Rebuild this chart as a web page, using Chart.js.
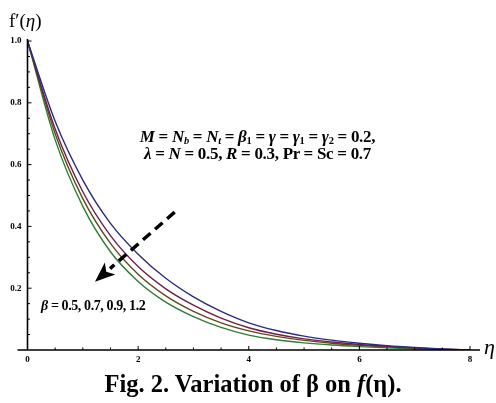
<!DOCTYPE html>
<html>
<head>
<meta charset="utf-8">
<script src="https://cdn.jsdelivr.net/npm/chart.js@4.4.1/dist/chart.umd.min.js"></script>
<style>
  html, body { margin: 0; padding: 0; background: #fff; }
  #wrap { position: relative; width: 496px; height: 403px; overflow: hidden; }
  #plot { position: absolute; left: 0; top: 0; }
  .txt { position: absolute; font-family: "Liberation Serif", "DejaVu Serif", serif; color: #000; white-space: nowrap; }
  .params { font-weight: bold; font-size: 17px; line-height: 17px; text-align: center; left: 100px; width: 315px; top: 128px; letter-spacing: -0.3px; }
  .params i { font-style: italic; }
  .params sub { font-size: 10.5px; vertical-align: -2px; line-height: 0; }
  .beta { font-weight: bold; font-size: 14px; left: 41px; top: 298px; letter-spacing: -0.4px; }
  .ylab { font-size: 19px; left: 9px; top: 10px; }
  .xlab { font-size: 22px; font-style: italic; left: 484px; top: 334px; }
  .caption { font-weight: bold; font-size: 24.5px; left: 0; width: 506px; text-align: center; top: 370px; }
</style>
</head>
<body>
<div id="wrap">
  <canvas id="plot" width="496" height="403"></canvas>
  <div class="txt ylab">f′(<i>η</i>)</div>
  <div class="txt xlab">η</div>
  <div class="txt params">
    <i>M</i> = <i>N<sub>b</sub></i> = <i>N<sub>t</sub></i> = <i>β</i><sub>1</sub> = <i>γ</i> = <i>γ</i><sub>1</sub> = <i>γ</i><sub>2</sub> = 0.2,<br>
    <i>λ</i> = <i>N</i> = 0.5, <i>R</i> = 0.3, Pr = Sc = 0.7
  </div>
  <div class="txt beta"><i>β</i> = 0.5, 0.7, 0.9, 1.2</div>
  <div class="txt caption">Fig. 2. Variation of β on <i>f</i>(η).</div>
</div>
<script>
// eta grid and velocity profiles f'(eta) for each beta
const eta = [0, 0.5, 1, 1.5, 2, 2.5, 3, 3.5, 4, 4.5, 5, 5.5, 6, 6.5, 7, 7.5, 8];
const betaLabels = ['β = 0.5', 'β = 0.7', 'β = 0.9', 'β = 1.2'];
const fBeta05 = [1.0, 0.74, 0.55, 0.41, 0.31, 0.232, 0.172, 0.125, 0.088, 0.063, 0.045, 0.032, 0.022, 0.014, 0.008, 0.003, 0.0];
const fBeta07 = [1.0, 0.715, 0.512, 0.37, 0.27, 0.198, 0.145, 0.103, 0.072, 0.051, 0.036, 0.026, 0.018, 0.012, 0.007, 0.003, 0.0];
const fBeta09 = [1.0, 0.70, 0.49, 0.345, 0.245, 0.175, 0.125, 0.088, 0.062, 0.044, 0.031, 0.022, 0.015, 0.010, 0.006, 0.002, 0.0];
const fBeta12 = [1.0, 0.68, 0.465, 0.318, 0.222, 0.155, 0.108, 0.073, 0.048, 0.033, 0.023, 0.016, 0.011, 0.007, 0.004, 0.001, 0.0];
const xTicks = [0, 2, 4, 6, 8];
const yTicks = [0.2, 0.4, 0.6, 0.8, 1.0];
const lineColors = ['#2c2c7c', '#6e1f48', '#5f4a1e', '#2f7d34'];

const series = [fBeta05, fBeta07, fBeta09, fBeta12];

// axes drawn Mathematica-style: lines through origin, ticks pointing inward
const axesPlugin = {
  id: 'mmaAxes',
  afterDatasetsDraw(chart) {
    const ctx = chart.ctx;
    const xs = chart.scales.x, ys = chart.scales.y;
    const x0 = xs.getPixelForValue(0), y0 = ys.getPixelForValue(0);
    ctx.save();
    ctx.strokeStyle = '#000';
    ctx.lineWidth = 1.6;
    ctx.beginPath();
    ctx.moveTo(x0 - 10, y0);
    ctx.lineTo(xs.getPixelForValue(8) + 10, y0);
    ctx.moveTo(x0, y0);
    ctx.lineTo(x0, ys.getPixelForValue(1.0) - 2);
    ctx.stroke();

    ctx.lineWidth = 1;
    ctx.beginPath();
    for (let v = 0.5; v <= 8; v += 0.5) {
      const px = xs.getPixelForValue(v);
      const len = (v % 2 === 0) ? 4 : 2.5;
      ctx.moveTo(px, y0);
      ctx.lineTo(px, y0 - len);
    }
    for (let k = 1; k <= 20; k++) {
      const v = k * 0.05;
      const py = ys.getPixelForValue(v);
      const len = (k % 4 === 0) ? 4 : 2.5;
      ctx.moveTo(x0, py);
      ctx.lineTo(x0 + len, py);
    }
    ctx.stroke();

    ctx.fillStyle = '#000';
    ctx.font = 'bold 9px "Liberation Serif", serif';
    ctx.textAlign = 'center';
    ctx.textBaseline = 'top';
    xTicks.forEach(v => ctx.fillText(String(v), xs.getPixelForValue(v), y0 + 5));
    ctx.textAlign = 'right';
    ctx.textBaseline = 'middle';
    yTicks.forEach(v => ctx.fillText(v.toFixed(1), x0 - 6, ys.getPixelForValue(v)));

    // dashed arrow showing increasing beta
    const ax = xs.getPixelForValue(2.66), ay = ys.getPixelForValue(0.446);
    const tx = xs.getPixelForValue(1.22), ty = ys.getPixelForValue(0.221);
    const ang = Math.atan2(ty - ay, tx - ax);
    const headLen = 20, headW = 8;
    const bx = tx - headLen * Math.cos(ang), by = ty - headLen * Math.sin(ang);
    ctx.lineWidth = 3.5;
    ctx.setLineDash([10, 6]);
    ctx.beginPath();
    ctx.moveTo(ax, ay);
    ctx.lineTo(bx, by);
    ctx.stroke();
    ctx.setLineDash([]);
    ctx.beginPath();
    ctx.moveTo(tx, ty);
    ctx.lineTo(bx + headW * Math.sin(ang), by - headW * Math.cos(ang));
    ctx.lineTo(bx + 5 * Math.cos(ang), by + 5 * Math.sin(ang));
    ctx.lineTo(bx - headW * Math.sin(ang), by + headW * Math.cos(ang));
    ctx.closePath();
    ctx.fill();
    ctx.restore();
  }
};

new Chart(document.getElementById('plot'), {
  type: 'line',
  data: {
    datasets: series.map((s, i) => ({
      label: betaLabels[i],
      data: eta.map((x, j) => ({ x: x, y: s[j] })),
      borderColor: lineColors[i],
      borderWidth: 1.4,
      pointRadius: 0,
      cubicInterpolationMode: 'monotone',
      fill: false
    }))
  },
  options: {
    responsive: false,
    animation: false,
    layout: { padding: { left: 27.5, right: 26, top: 41, bottom: 53 } },
    plugins: { legend: { display: false }, tooltip: { enabled: false } },
    scales: {
      x: { type: 'linear', min: 0, max: 8, display: false },
      y: { type: 'linear', min: 0, max: 1.0, display: false }
    }
  },
  plugins: [axesPlugin]
});
</script>
</body>
</html>
